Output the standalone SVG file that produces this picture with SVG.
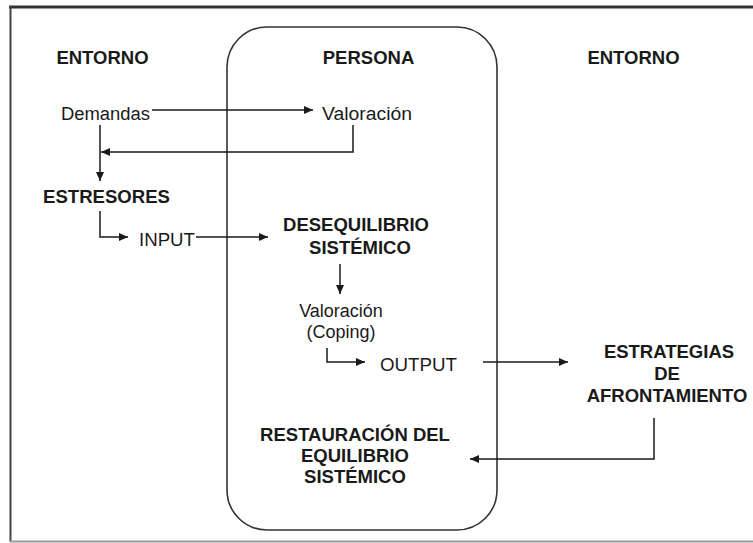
<svg xmlns="http://www.w3.org/2000/svg" width="753" height="543" viewBox="0 0 753 543">
  <style>
    .b { font-family: "Liberation Sans", Arial, sans-serif; font-weight: bold; font-size: 18.5px; fill: #1a1a1a; }
    .r { font-family: "Liberation Sans", Arial, sans-serif; font-size: 18px; fill: #1a1a1a; }
    .m { text-anchor: middle; }
    .c { fill: none; stroke: #1a1a1a; stroke-width: 1.5; }
  </style>
  <defs>
    <marker id="ah" markerUnits="userSpaceOnUse" markerWidth="10" markerHeight="8" refX="9" refY="4" orient="auto">
      <path d="M0,0 L9,4 L0,8 Z" fill="#1a1a1a"/>
    </marker>
  </defs>
  <rect width="753" height="543" fill="#ffffff"/>
  <g id="frame">
    <line x1="9" y1="7" x2="753" y2="7" stroke="#333" stroke-width="3"/>
    <line x1="10.5" y1="6" x2="10.5" y2="542" stroke="#444" stroke-width="2"/>
    <line x1="10" y1="541.5" x2="753" y2="541.5" stroke="#999" stroke-width="2"/>
  </g>
  <g id="persona">
    <rect x="227" y="27" width="270" height="503" rx="40" ry="40" fill="none" stroke="#333" stroke-width="1.6"/>
    <text class="b m" x="368.5" y="64">PERSONA</text>
  </g>
  <g id="entorno-izq"><text class="b m" x="102.5" y="64">ENTORNO</text></g>
  <g id="entorno-der"><text class="b m" x="633.5" y="64">ENTORNO</text></g>
  <g id="demandas"><text class="r" x="61" y="120" textLength="89" lengthAdjust="spacingAndGlyphs">Demandas</text></g>
  <g id="valoracion1"><text class="r" x="322" y="120" textLength="90" lengthAdjust="spacingAndGlyphs">Valoración</text></g>
  <g id="estresores"><text class="b" x="43" y="203" textLength="127" lengthAdjust="spacingAndGlyphs">ESTRESORES</text></g>
  <g id="input"><text class="r" x="139" y="246" textLength="56" lengthAdjust="spacingAndGlyphs">INPUT</text></g>
  <g id="desequilibrio">
    <text class="b m" x="356" y="231">DESEQUILIBRIO</text>
    <text class="b m" x="360" y="254">SISTÉMICO</text>
  </g>
  <g id="valoracion2">
    <text class="r m" x="341" y="317">Valoración</text>
    <text class="r m" x="341" y="338">(Coping)</text>
  </g>
  <g id="output"><text class="r" x="380" y="371" textLength="77" lengthAdjust="spacingAndGlyphs">OUTPUT</text></g>
  <g id="estrategias">
    <text class="b m" x="669" y="358">ESTRATEGIAS</text>
    <text class="b m" x="667" y="380">DE</text>
    <text class="b m" x="667" y="402">AFRONTAMIENTO</text>
  </g>
  <g id="restauracion">
    <text class="b m" x="355" y="441">RESTAURACIÓN DEL</text>
    <text class="b m" x="355" y="462">EQUILIBRIO</text>
    <text class="b m" x="355" y="483">SISTÉMICO</text>
  </g>
  <g id="connectors">
    <path class="c" d="M152,110 H313" marker-end="url(#ah)"/>
    <path class="c" d="M353,125 V152 H101" marker-end="url(#ah)"/>
    <path class="c" d="M100,125 V181" marker-end="url(#ah)"/>
    <path class="c" d="M100,211 V237 H128" marker-end="url(#ah)"/>
    <path class="c" d="M196,237 H268" marker-end="url(#ah)"/>
    <path class="c" d="M340,264 V294" marker-end="url(#ah)"/>
    <path class="c" d="M327,348 V362 H365" marker-end="url(#ah)"/>
    <path class="c" d="M483,362 H568" marker-end="url(#ah)"/>
    <path class="c" d="M654,418 V459 H470" marker-end="url(#ah)"/>
  </g>
</svg>
